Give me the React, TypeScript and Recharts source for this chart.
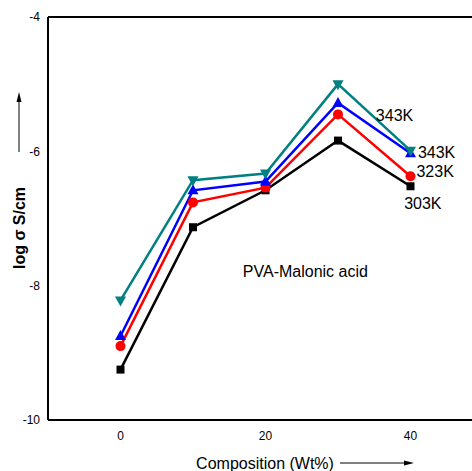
import React from "react";
import {
  LineChart,
  Line,
  XAxis,
  YAxis,
  ReferenceLine,
  ReferenceDot,
} from "recharts";

const composition = [0, 10, 20, 30, 40];
const k303 = [-9.25, -7.13, -6.58, -5.84, -6.52];
const k323 = [-8.9, -6.76, -6.54, -5.45, -6.37];
const k343a = [-8.75, -6.58, -6.45, -5.28, -6.03];
const k343b = [-8.22, -6.43, -6.33, -5.0, -5.99];

const xTicks = [0, 20, 40];
const yTicks = [-10, -8, -6, -4];

const notes = [
  { text: "343K", x: 37.8, y: -5.46 },
  { text: "343K", x: 43.6, y: -6.02 },
  { text: "323K", x: 43.4, y: -6.3 },
  { text: "303K", x: 41.7, y: -6.78 },
  { text: "PVA-Malonic acid", x: 25.5, y: -7.78 },
];

const data = composition.map((c, i) => ({
  c,
  k303: k303[i],
  k323: k323[i],
  k343a: k343a[i],
  k343b: k343b[i],
}));

const Square = (props: any) => {
  const { cx, cy, fill } = props;
  return <rect x={cx - 4} y={cy - 4} width={8} height={8} fill={fill} />;
};
const Circle = (props: any) => {
  const { cx, cy, fill } = props;
  return <circle cx={cx} cy={cy} r={5} fill={fill} />;
};
const TriUp = (props: any) => {
  const { cx, cy, fill } = props;
  return <polygon points={`${cx},${cy - 6} ${cx - 5.5},${cy + 4} ${cx + 5.5},${cy + 4}`} fill={fill} />;
};
const TriDown = (props: any) => {
  const { cx, cy, fill } = props;
  return <polygon points={`${cx},${cy + 6} ${cx - 5.5},${cy - 4} ${cx + 5.5},${cy - 4}`} fill={fill} />;
};

const YLabel = () => (
  <g>
    <text
      x={0}
      y={0}
      transform="translate(25,228) rotate(-90)"
      textAnchor="middle"
      fontSize={16}
      fontWeight="bold"
      fill="#000"
    >
      log σ S/cm
    </text>
    <line x1={19} y1={152} x2={19} y2={100} stroke="#000" strokeWidth={1} />
    <polygon points="19,92 16.5,102 21.5,102" fill="#000" />
  </g>
);

const XLabel = () => (
  <g>
    <text x={265} y={469} textAnchor="middle" fontSize={16} fill="#000">
      Composition (Wt%)
    </text>
    <line x1={340} y1={463} x2={405} y2={463} stroke="#000" strokeWidth={1} />
    <polygon points="414,463 404,460.5 404,465.5" fill="#000" />
  </g>
);

export default function App() {
  return (
    <div
      style={{
        position: "absolute",
        left: 0,
        top: 0,
        width: 472,
        height: 471,
        overflow: "hidden",
        background: "#fff",
      }}
    >
      <LineChart
        width={493}
        height={471}
        data={data}
        margin={{ top: 17, right: 10, bottom: 21, left: 0 }}
        style={{ fontFamily: "'Liberation Sans', Arial, sans-serif" }}
      >
        <XAxis
          dataKey="c"
          type="number"
          domain={[-10, 50]}
          ticks={xTicks}
          tickLine={false}
          tickSize={0}
          tickMargin={11}
          axisLine={{ stroke: "#000", strokeWidth: 2 }}
          tick={{ fill: "#000", fontSize: 12 }}
          height={30}
        />
        <YAxis
          type="number"
          domain={[-10, -4]}
          ticks={yTicks}
          tickLine={false}
          tickSize={0}
          tickMargin={8}
          axisLine={{ stroke: "#000", strokeWidth: 2 }}
          tick={{ fill: "#000", fontSize: 12 }}
          width={48}
        />
        <ReferenceLine y={-4} stroke="#000" strokeWidth={2} />
        <ReferenceLine x={50} stroke="#000" strokeWidth={2} />
        <Line dataKey="k303" stroke="#000" strokeWidth={2.5} fill="#000" dot={<Square />} isAnimationActive={false} />
        <Line dataKey="k323" stroke="#ff0000" strokeWidth={2.5} fill="#ff0000" dot={<Circle />} isAnimationActive={false} />
        <Line dataKey="k343a" stroke="#0000ff" strokeWidth={2.5} fill="#0000ff" dot={<TriUp />} isAnimationActive={false} />
        <Line dataKey="k343b" stroke="#008080" strokeWidth={2.5} fill="#008080" dot={<TriDown />} isAnimationActive={false} />
        {notes.map((n, i) => (
          <ReferenceDot
            key={i}
            x={n.x}
            y={n.y}
            r={0}
            stroke="none"
            label={{ value: n.text, position: "center", fill: "#000", fontSize: 16 }}
          />
        ))}
        <YLabel />
        <XLabel />
      </LineChart>
    </div>
  );
}
